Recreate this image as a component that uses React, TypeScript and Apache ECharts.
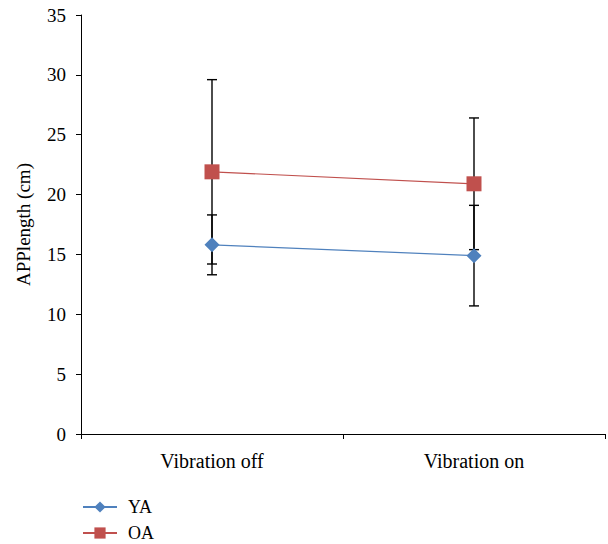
import React, { useEffect, useRef } from "react";
import * as echarts from "echarts";

const categories = ["Vibration off", "Vibration on"];
const yaMean = [15.8, 14.9];
const yaSD = [2.5, 4.2];
const oaMean = [21.9, 20.9];
const oaSD = [7.7, 5.5];
const yTicks = { min: 0, max: 35, interval: 5 };
const legendNames = ["YA", "OA"];

const FONT = "'Liberation Serif', 'DejaVu Serif', serif";
const BLUE = "#4F81BD";
const RED = "#C0504D";

export default function App() {
  const ref = useRef<HTMLDivElement>(null);
  useEffect(() => {
    if (!ref.current) return;
    const chart = echarts.init(ref.current, null, { renderer: "svg" });
    const errData: number[][] = [];
    categories.forEach((_, i) => {
      errData.push([i, yaMean[i] - yaSD[i], yaMean[i] + yaSD[i]]);
      errData.push([i, oaMean[i] - oaSD[i], oaMean[i] + oaSD[i]]);
    });
    const legendBase = {
      orient: "vertical",
      left: 82,
      padding: 0,
      itemWidth: 34,
      itemHeight: 14,
      textStyle: { fontFamily: FONT, fontSize: 18, color: "#000", padding: [0, 0, 0, 6] },
    };
    chart.setOption({
      animation: false,
      grid: { left: 81, right: 3, top: 15, bottom: 110, containLabel: false },
      legend: [
        { ...legendBase, top: 498, data: [legendNames[0]] },
        { ...legendBase, top: 524, data: [legendNames[1]] },
      ],
      xAxis: {
        type: "category",
        data: categories,
        boundaryGap: true,
        axisLine: { lineStyle: { color: "#000", width: 1 } },
        axisTick: { show: true, length: 5, lineStyle: { color: "#000" } },
        axisLabel: { fontFamily: FONT, fontSize: 20, color: "#000", margin: 17 },
      },
      yAxis: {
        type: "value",
        min: yTicks.min,
        max: yTicks.max,
        interval: yTicks.interval,
        name: "APPlength (cm)",
        nameLocation: "middle",
        nameGap: 48,
        nameTextStyle: { fontFamily: FONT, fontSize: 19, color: "#000" },
        axisLine: { show: true, lineStyle: { color: "#000", width: 1 } },
        axisTick: { show: true, length: 5, lineStyle: { color: "#000" } },
        axisLabel: { fontFamily: FONT, fontSize: 19, color: "#000", margin: 15 },
        splitLine: { show: false },
      },
      series: [
        {
          type: "custom",
          name: "err",
          z: 1,
          data: errData,
          renderItem: (params: any, api: any) => {
            const x = api.value(0);
            const lo = api.coord([x, api.value(1)]);
            const hi = api.coord([x, api.value(2)]);
            const hw = 5;
            const style = { stroke: "#000", lineWidth: 1.4 };
            return {
              type: "group",
              children: [
                { type: "line", shape: { x1: hi[0], y1: hi[1], x2: lo[0], y2: lo[1] }, style },
                { type: "line", shape: { x1: hi[0] - hw, y1: hi[1], x2: hi[0] + hw, y2: hi[1] }, style },
                { type: "line", shape: { x1: lo[0] - hw, y1: lo[1], x2: lo[0] + hw, y2: lo[1] }, style },
              ],
            };
          },
        },
        {
          type: "line",
          name: legendNames[0],
          z: 3,
          data: yaMean,
          symbol: "diamond",
          symbolSize: 15,
          itemStyle: { color: BLUE },
          lineStyle: { color: BLUE, width: 1.2 },
        },
        {
          type: "line",
          name: legendNames[1],
          z: 3,
          data: oaMean,
          symbol: "rect",
          symbolSize: 15,
          itemStyle: { color: RED },
          lineStyle: { color: RED, width: 1.2 },
        },
      ],
    });
    return () => chart.dispose();
  }, []);
  return <div ref={ref} style={{ width: 608, height: 544, position: "absolute", left: 0, top: 0 }} />;
}
